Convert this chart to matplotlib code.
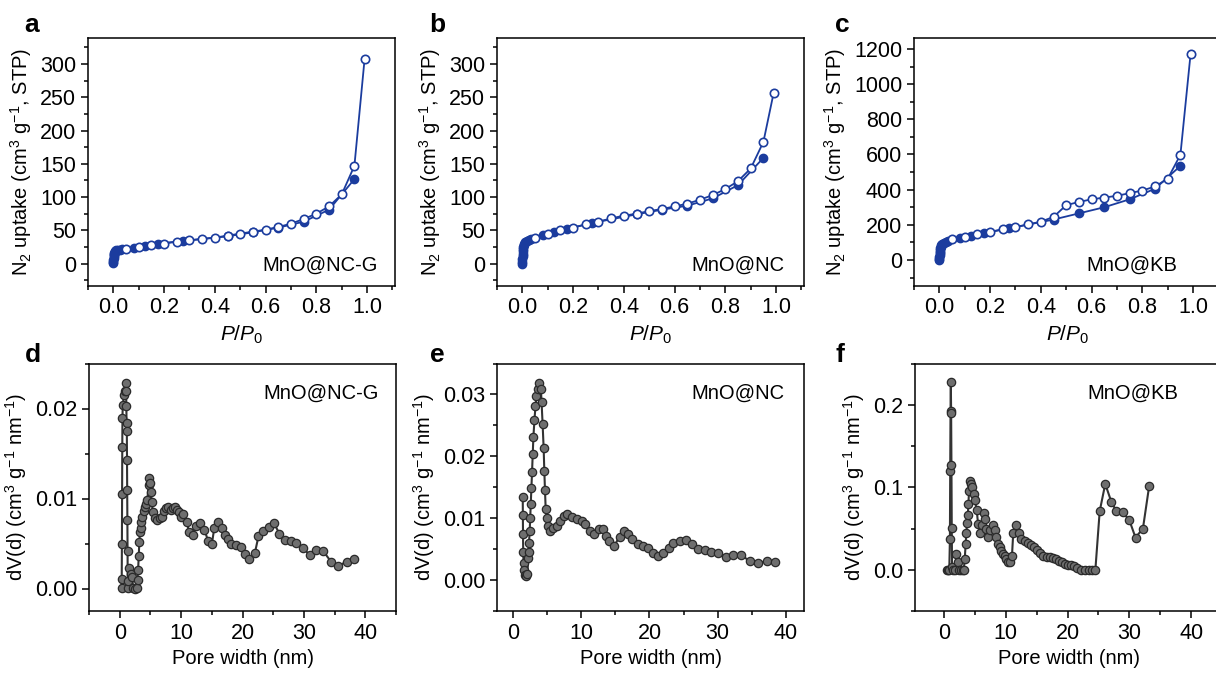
import matplotlib
matplotlib.use('Agg')
import matplotlib.pyplot as plt
from matplotlib.ticker import MultipleLocator

plt.rcParams['font.family'] = ['Liberation Sans', 'DejaVu Sans']
plt.rcParams['mathtext.fontset'] = 'custom'
plt.rcParams['mathtext.rm'] = 'Liberation Sans'
plt.rcParams['mathtext.it'] = 'Liberation Sans:italic'
plt.rcParams['axes.linewidth'] = 1.1

BLUE = '#1b3c9e'
GREY_LINE = '#333333'

# ---- N2 isotherms (top row) ----
# MnO@NC-G
a_ads_p = [0.0001, 0.0002, 0.0004, 0.0007, 0.001, 0.0015, 0.002, 0.003, 0.005, 0.008, 0.012, 0.018,
           0.025, 0.035, 0.08, 0.125, 0.175, 0.275, 0.45, 0.55, 0.65, 0.75, 0.85, 0.95]
a_ads_v = [1, 3, 6, 9, 11, 13, 15, 16.5, 18, 19, 20, 20.5, 21, 21.5, 24, 27, 30, 34, 41, 47, 54, 63, 81, 127]
a_des_p = [0.99, 0.95, 0.9, 0.85, 0.8, 0.75, 0.7, 0.65, 0.6, 0.55, 0.5, 0.45, 0.4, 0.35, 0.3, 0.25,
           0.2, 0.15, 0.1, 0.05]
a_des_v = [307, 147, 104, 86, 75, 67, 60, 55, 51, 48, 45, 42, 39, 37, 35, 33, 30, 28, 25, 22]

# MnO@NC
b_ads_p = [0.0001, 0.0002, 0.0004, 0.0007, 0.001, 0.0015, 0.002, 0.003, 0.005, 0.008, 0.012, 0.018,
           0.025, 0.035, 0.08, 0.125, 0.175, 0.275, 0.45, 0.55, 0.65, 0.75, 0.85, 0.95]
b_ads_v = [0, 3, 7, 11, 15, 19, 22, 25, 28, 30, 32, 33.5, 35, 37, 43, 48, 52, 61, 74, 81, 87, 98, 118, 159]
b_des_p = a_des_p
b_des_v = [256, 183, 143, 124, 112, 103, 96, 90, 86, 82, 79, 75, 72, 68, 63, 59, 54, 50, 45, 39]

# MnO@KB
c_ads_p = [0.0001, 0.0002, 0.0004, 0.0007, 0.001, 0.0015, 0.002, 0.003, 0.005, 0.008, 0.012, 0.018,
           0.025, 0.035, 0.08, 0.125, 0.175, 0.275, 0.45, 0.55, 0.65, 0.75, 0.85, 0.95]
c_ads_v = [0, 8, 18, 28, 38, 48, 58, 67, 76, 84, 90, 96, 101, 106, 125, 135, 152, 180, 230, 265, 300, 345,
           405, 535]
c_des_p = a_des_p
c_des_v = [1170, 598, 462, 418, 395, 380, 365, 355, 345, 330, 312, 245, 218, 202, 188, 175, 160, 148,
           132, 118]

# ---- Pore size distributions (bottom row) ----
d_w = [0.30, 0.33, 0.36, 0.39, 0.42, 0.45, 0.50, 0.70, 0.82, 0.98, 1.04, 1.08, 1.12, 1.16, 1.19, 1.22,
       1.25, 1.28, 1.31, 1.40, 1.52, 1.80, 2.00, 2.20, 2.50, 2.80, 2.90, 3.00, 3.10, 3.20, 3.30, 3.40,
       3.50, 3.70, 3.90, 4.10, 4.30, 4.50, 4.70, 4.85, 5.00, 5.10, 5.20, 5.40, 5.70, 6.10, 6.50, 6.90,
       7.20, 7.50, 7.90, 8.30, 8.60, 9.00, 9.30, 9.60, 10.0, 10.3, 10.9, 11.3, 11.9, 12.4, 13.0, 13.8,
       14.4, 15.0, 15.4, 16.0, 16.6, 17.1, 17.6, 18.2, 18.9, 19.7, 20.4, 21.1, 22.0, 22.6, 23.4, 24.3,
       25.1, 26.0, 26.9, 27.9, 28.7, 29.8, 31.0, 32.0, 33.1, 34.4, 35.6, 37.0, 38.1]
d_v = [0.0001, 0.0011, 0.0050, 0.0105, 0.0157, 0.0190, 0.0204, 0.0215, 0.0220, 0.0228, 0.0220, 0.0203,
       0.0184, 0.0175, 0.0143, 0.0109, 0.0076, 0.0042, 0.0001, 0.0008, 0.0023, 0.0016, 0.0013, 0.0001,
       0.0000, 0.0001, 0.0010, 0.0021, 0.0036, 0.0052, 0.0063, 0.0067, 0.0074, 0.0080, 0.0086, 0.0091,
       0.0094, 0.0098, 0.0115, 0.0123, 0.0117, 0.0107, 0.0096, 0.0085, 0.0078, 0.0076, 0.0078, 0.0080,
       0.0086, 0.0089, 0.0091, 0.0087, 0.0089, 0.0091, 0.0087, 0.0085, 0.0079, 0.0083, 0.0074, 0.0063,
       0.0059, 0.0069, 0.0073, 0.0065, 0.0053, 0.0049, 0.0067, 0.0074, 0.0067, 0.0059, 0.0055, 0.0049,
       0.0048, 0.0046, 0.0038, 0.0033, 0.0039, 0.0058, 0.0064, 0.0068, 0.0073, 0.0061, 0.0054, 0.0053,
       0.0051, 0.0045, 0.0037, 0.0043, 0.0042, 0.0030, 0.0025, 0.0030, 0.0033]

e_w = [1.38, 1.40, 1.42, 1.45, 1.50, 1.60, 1.75, 1.90, 2.05, 2.20, 2.25, 2.30, 2.40, 2.48, 2.56, 2.65,
       2.75, 2.85, 2.95, 3.10, 3.25, 3.40, 3.55, 3.80, 4.05, 4.15, 4.30, 4.45, 4.55, 4.65, 4.75, 4.90,
       5.10, 5.40, 5.90, 6.40, 6.90, 7.40, 7.90, 8.60, 9.40, 10.1, 10.6, 11.3, 11.8, 12.6, 13.1, 13.6,
       14.1, 14.8, 15.6, 16.2, 16.8, 17.5, 18.3, 19.0, 19.8, 20.5, 21.3, 22.0, 22.8, 23.5, 24.5, 25.4,
       26.3, 27.1, 28.1, 29.1, 30.1, 31.2, 32.3, 33.5, 34.7, 35.9, 37.2, 38.5]
e_v = [0.0135, 0.0105, 0.0074, 0.0046, 0.0027, 0.0016, 0.0008, 0.0006, 0.0010, 0.0035, 0.0046, 0.0060,
       0.0079, 0.0101, 0.0123, 0.0148, 0.0175, 0.0204, 0.0232, 0.0258, 0.0281, 0.0297, 0.0309, 0.0318,
       0.0308, 0.0287, 0.0252, 0.0214, 0.0177, 0.0145, 0.0115, 0.0101, 0.0087, 0.0079, 0.0084, 0.0087,
       0.0095, 0.0103, 0.0106, 0.0102, 0.0098, 0.0095, 0.0091, 0.0079, 0.0074, 0.0082, 0.0082, 0.0071,
       0.0063, 0.0055, 0.0070, 0.0079, 0.0074, 0.0066, 0.0058, 0.0055, 0.0052, 0.0044, 0.0039, 0.0043,
       0.0052, 0.0060, 0.0063, 0.0065, 0.0058, 0.0051, 0.0049, 0.0046, 0.0043, 0.0037, 0.0040, 0.0040,
       0.0031, 0.0027, 0.0031, 0.0029]

f_w = [0.50, 0.70, 0.85, 0.95, 1.00, 1.05, 1.10, 1.15, 1.20, 1.25, 1.30, 1.50, 1.80, 2.00, 2.20, 2.40,
       2.70, 3.00, 3.20, 3.35, 3.50, 3.60, 3.75, 3.85, 3.95, 4.05, 4.20, 4.40, 4.60, 4.80, 5.00, 5.30,
       5.50, 5.80, 6.10, 6.40, 6.60, 6.80, 7.10, 7.50, 7.90, 8.20, 8.40, 8.70, 9.00, 9.30, 9.60, 9.80,
       10.1, 10.4, 10.7, 11.0, 11.2, 11.7, 12.1, 12.5, 13.1, 13.6, 14.1, 14.6, 15.1, 15.6, 16.1, 16.6,
       17.1, 17.6, 18.1, 18.6, 19.1, 19.6, 20.1, 20.6, 21.1, 21.6, 22.2, 22.8, 23.4, 24.0, 24.5, 25.2,
       26.1, 27.1, 27.9, 28.9, 30.0, 31.0, 32.2, 33.2]
f_v = [0.0, 0.0, 0.0, 0.037, 0.120, 0.192, 0.228, 0.190, 0.127, 0.051, 0.003, 0.0, 0.0, 0.019, 0.009,
       0.0, 0.0, 0.0, 0.0, 0.013, 0.031, 0.045, 0.057, 0.066, 0.080, 0.096, 0.108, 0.104, 0.100, 0.092,
       0.084, 0.072, 0.056, 0.044, 0.054, 0.069, 0.062, 0.050, 0.040, 0.048, 0.054, 0.048, 0.040, 0.031,
       0.027, 0.023, 0.019, 0.017, 0.013, 0.010, 0.009, 0.017, 0.044, 0.054, 0.044, 0.037, 0.035, 0.033,
       0.030, 0.027, 0.024, 0.020, 0.017, 0.015, 0.015, 0.014, 0.013, 0.011, 0.009, 0.007, 0.006, 0.006,
       0.004, 0.002, 0.0, 0.0, 0.0, 0.0, 0.0, 0.071, 0.104, 0.082, 0.071, 0.070, 0.060, 0.039, 0.050, 0.101]

samples = ['MnO@NC-G', 'MnO@NC', 'MnO@KB']

W, H = 1216, 673
fig = plt.figure(figsize=(W / 100, H / 100), dpi=100)


def add_ax(left, top, right, bottom):
    return fig.add_axes([left / W, 1 - bottom / H, (right - left) / W, (bottom - top) / H])


def style(ax, xmaj, xmin, ymaj, ymin):
    ax.xaxis.set_major_locator(MultipleLocator(xmaj))
    ax.xaxis.set_minor_locator(MultipleLocator(xmin))
    ax.yaxis.set_major_locator(MultipleLocator(ymaj))
    ax.yaxis.set_minor_locator(MultipleLocator(ymin))
    ax.tick_params(which='both', direction='out', top=False, right=False, width=1.1, labelsize=15.5)
    ax.tick_params(which='major', length=5)
    ax.tick_params(which='minor', length=3)


top_axes = [add_ax(88, 37.5, 395, 285.5), add_ax(497, 37.5, 804, 285.5), add_ax(914, 37.5, 1221, 285.5)]
iso = [(a_ads_p, a_ads_v, a_des_p, a_des_v), (b_ads_p, b_ads_v, b_des_p, b_des_v),
       (c_ads_p, c_ads_v, c_des_p, c_des_v)]
top_ylims = [(-33, 340), (-33, 340), (-145, 1265)]
top_ymaj = [(50, 25), (50, 25), (200, 100)]
text_x = [0.945, 0.938, 0.856]

for i, ax in enumerate(top_axes):
    ap, av, dp, dv = iso[i]
    ax.plot(ap, av, '-o', color=BLUE, lw=1.3, ms=6, mfc=BLUE, mec=BLUE, zorder=2)
    ax.plot(dp, dv, '-o', color=BLUE, lw=1.3, ms=6, mfc='white', mec=BLUE, mew=1.2, zorder=3)
    ax.set_xlim(-0.1, 1.11)
    ax.set_ylim(*top_ylims[i])
    style(ax, 0.2, 0.1, *top_ymaj[i])
    ax.xaxis.set_major_formatter(matplotlib.ticker.FormatStrFormatter('%.1f'))
    ax.set_xlabel(r'$P/P_\mathrm{0}$', fontsize=15)
    ax.set_ylabel(r'N$_2$ uptake (cm$^3$ g$^{-1}$, STP)', fontsize=14.5, labelpad=4)
    ax.text(text_x[i], 0.083, samples[i], transform=ax.transAxes, ha='right', va='center', fontsize=14.5)

bot_axes = [add_ax(89, 363.5, 396, 611), add_ax(497, 363.5, 804, 611), add_ax(915, 363.5, 1222, 611)]
psd = [(d_w, d_v), (e_w, e_v), (f_w, f_v)]
bot_xlims = [(-5, 45), (-2.4, 42.7), (-4.7, 45)]
bot_ylims = [(-0.0025, 0.025), (-0.005, 0.035), (-0.05, 0.25)]
bot_ymaj = [(0.01, 0.005), (0.01, 0.005), (0.1, 0.05)]
bot_fmt = ['%.2f', '%.2f', '%.1f']

for i, ax in enumerate(bot_axes):
    w, v = psd[i]
    ax.plot(w, v, '-o', color=GREY_LINE, lw=1.5, ms=6, mfc='#6e6e6e', mec='#2a2a2a', mew=0.9)
    ax.set_xlim(*bot_xlims[i])
    ax.set_ylim(*bot_ylims[i])
    style(ax, 10, 5, *bot_ymaj[i])
    ax.yaxis.set_major_formatter(matplotlib.ticker.FormatStrFormatter(bot_fmt[i]))
    ax.set_xlabel('Pore width (nm)', fontsize=14.5)
    ax.set_ylabel(r'dV(d) (cm$^3$ g$^{-1}$ nm$^{-1}$)', fontsize=14.5)
    ax.text(text_x[i], 0.88, samples[i], transform=ax.transAxes, ha='right', va='center', fontsize=14.5)

letters = [('a', 32, 25), ('b', 437, 25), ('c', 842, 25), ('d', 33, 355), ('e', 437, 355), ('f', 840, 355)]
for s, x, y in letters:
    fig.text(x / W, 1 - y / H, s, fontsize=19, fontweight='bold', ha='center', va='center')

fig.savefig('out.png', dpi=100)
